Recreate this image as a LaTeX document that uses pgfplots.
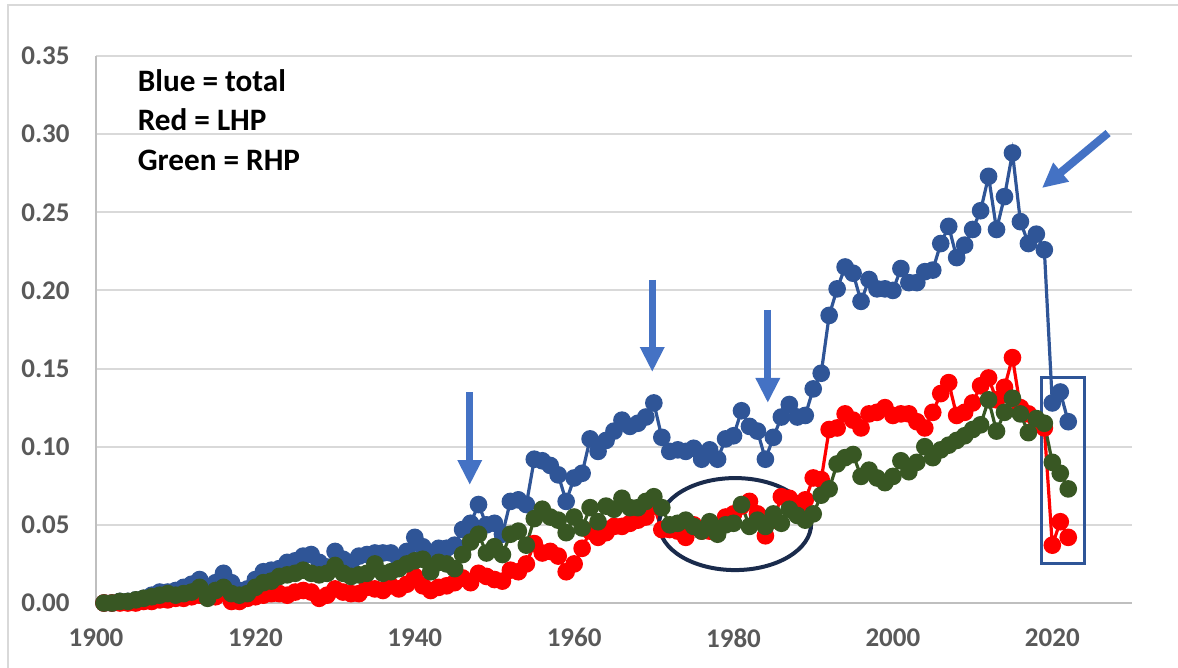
\documentclass[border=0pt]{standalone}
\usepackage{fontspec}
\setmainfont{Carlito}
\usepackage{pgfplots}
\usepackage{pgfplotstable}
\pgfplotsset{compat=1.18}
\usetikzlibrary{arrows.meta}

\definecolor{totblue}{HTML}{2F5597}
\definecolor{lhpred}{HTML}{FF0000}
\definecolor{rhpgreen}{HTML}{385723}
\definecolor{arrblue}{HTML}{4472C4}
\definecolor{navy}{HTML}{1A2B4C}
\definecolor{gridgray}{HTML}{D9D9D9}
\definecolor{axisgray}{HTML}{BFBFBF}
\definecolor{labelgray}{HTML}{595959}

% year, total, LHP, RHP
\pgfplotstableread{
year total lhp rhp
1901 0.000 0.000 0.000
1902 0.000 0.000 0.000
1903 0.001 0.000 0.001
1904 0.001 0.000 0.001
1905 0.002 0.000 0.002
1906 0.003 0.001 0.003
1907 0.005 0.001 0.004
1908 0.007 0.002 0.005
1909 0.007 0.002 0.006
1910 0.008 0.003 0.005
1911 0.010 0.003 0.006
1912 0.012 0.004 0.007
1913 0.015 0.005 0.010
1914 0.009 0.004 0.003
1915 0.013 0.004 0.008
1916 0.019 0.007 0.010
1917 0.013 0.001 0.006
1918 0.008 0.001 0.005
1919 0.009 0.003 0.006
1920 0.015 0.004 0.010
1921 0.020 0.005 0.013
1922 0.021 0.006 0.014
1923 0.022 0.006 0.017
1924 0.026 0.005 0.018
1925 0.027 0.007 0.019
1926 0.030 0.008 0.021
1927 0.031 0.007 0.019
1928 0.026 0.003 0.018
1929 0.023 0.005 0.019
1930 0.033 0.009 0.024
1931 0.028 0.007 0.019
1932 0.026 0.006 0.017
1933 0.030 0.006 0.018
1934 0.031 0.010 0.019
1935 0.032 0.009 0.025
1936 0.032 0.008 0.019
1937 0.032 0.011 0.020
1938 0.028 0.009 0.022
1939 0.033 0.012 0.025
1940 0.042 0.017 0.027
1941 0.036 0.011 0.028
1942 0.030 0.008 0.020
1943 0.035 0.010 0.026
1944 0.035 0.011 0.025
1945 0.037 0.013 0.022
1946 0.047 0.016 0.031
1947 0.051 0.013 0.039
1948 0.063 0.019 0.044
1949 0.050 0.017 0.032
1950 0.051 0.015 0.036
1951 0.044 0.014 0.031
1952 0.065 0.021 0.044
1953 0.066 0.020 0.046
1954 0.063 0.025 0.037
1955 0.092 0.038 0.054
1956 0.091 0.032 0.060
1957 0.088 0.033 0.055
1958 0.082 0.030 0.053
1959 0.065 0.020 0.045
1960 0.080 0.025 0.055
1961 0.083 0.035 0.048
1962 0.105 0.046 0.061
1963 0.097 0.042 0.052
1964 0.104 0.045 0.062
1965 0.110 0.049 0.060
1966 0.117 0.049 0.067
1967 0.113 0.051 0.061
1968 0.115 0.053 0.061
1969 0.119 0.055 0.065
1970 0.128 0.062 0.068
1971 0.106 0.047 0.061
1972 0.097 0.047 0.050
1973 0.098 0.046 0.051
1974 0.097 0.042 0.053
1975 0.099 0.050 0.049
1976 0.092 0.046 0.046
1977 0.098 0.046 0.052
1978 0.092 0.047 0.044
1979 0.105 0.055 0.050
1980 0.107 0.057 0.051
1981 0.123 0.062 0.063
1982 0.113 0.065 0.049
1983 0.110 0.057 0.053
1984 0.092 0.043 0.049
1985 0.106 0.053 0.057
1986 0.119 0.068 0.051
1987 0.127 0.067 0.060
1988 0.119 0.061 0.056
1989 0.120 0.066 0.053
1990 0.137 0.080 0.057
1991 0.147 0.079 0.069
1992 0.184 0.111 0.073
1993 0.201 0.112 0.089
1994 0.215 0.121 0.093
1995 0.211 0.117 0.095
1996 0.193 0.112 0.081
1997 0.207 0.121 0.085
1998 0.201 0.122 0.080
1999 0.201 0.125 0.077
2000 0.200 0.120 0.081
2001 0.214 0.121 0.091
2002 0.205 0.121 0.084
2003 0.205 0.116 0.090
2004 0.212 0.112 0.100
2005 0.213 0.122 0.093
2006 0.230 0.134 0.098
2007 0.241 0.141 0.101
2008 0.221 0.120 0.104
2009 0.229 0.122 0.107
2010 0.239 0.128 0.111
2011 0.251 0.139 0.114
2012 0.273 0.144 0.130
2013 0.239 0.130 0.110
2014 0.260 0.138 0.122
2015 0.288 0.157 0.131
2016 0.244 0.125 0.121
2017 0.230 0.121 0.109
2018 0.236 0.117 0.118
2019 0.226 0.112 0.115
2020 0.128 0.037 0.090
2021 0.135 0.052 0.083
2022 0.116 0.042 0.073
}\pvdata

\tikzset{
  series/.style={line width=1.6pt, mark=*, mark size=3.6pt, mark options={solid}},
  bigarrow/.style={draw=arrblue, line width=3.6pt, -{Triangle[width=11.5pt,length=12.5pt]}},
}

\begin{document}
\begin{tikzpicture}
\useasboundingbox (-48pt,-32.5pt) rectangle (541pt,301.5pt);
% outer frame of the figure
\draw[gridgray, line width=1pt] (-44pt,-40pt) -- (-44pt,299pt) -- (545pt,299pt);

\begin{axis}[
  scale only axis,
  width=518pt, height=273.5pt,
  xmin=1900, xmax=2030,
  ymin=0, ymax=0.35,
  clip=false,
  xtick={1900,1920,1940,1960,1980,2000,2020},
  ytick={0,0.05,0.10,0.15,0.20,0.25,0.30,0.35},
  axis lines*=left,
  axis line style={draw=axisgray, line width=1pt, -},
  ymajorgrids,
  major grid style={draw=gridgray, line width=1pt},
  major tick length=0pt,
  tick style={draw=none},
  /pgf/number format/.cd, 1000 sep={}, assume math mode=true,
  /pgfplots/.cd,
  ticklabel style={font=\bfseries\fontsize{13.5}{14}\selectfont, text=labelgray, inner sep=0pt},
  yticklabel style={anchor=east, xshift=-13pt,
    /pgf/number format/.cd, fixed, fixed zerofill, precision=2},
  xticklabel style={anchor=north, yshift=-12.5pt},
]
\addplot[series, color=totblue] table[x=year, y=total] {\pvdata};
\addplot[series, color=lhpred] table[x=year, y=lhp] {\pvdata};
\addplot[series, color=rhpgreen] table[x=year, y=rhp] {\pvdata};

% annotations
\draw[bigarrow] (axis cs:1946.9,0.135) -- (axis cs:1946.9,0.0755);
\draw[bigarrow] (axis cs:1969.8,0.2067) -- (axis cs:1969.8,0.1478);
\draw[bigarrow] (axis cs:1984.3,0.1875) -- (axis cs:1984.3,0.128);
\draw[bigarrow, line width=4pt] (axis cs:2027.0,0.3007) -- (axis cs:2018.7,0.2655);
\draw[navy, line width=2pt] (axis cs:1980.2,0.0505) ellipse [x radius=38pt, y radius=23pt];
\draw[totblue, line width=1.5pt] (axis cs:2018.7,0.1446) rectangle (axis cs:2024.0,0.025);

\node[anchor=base west, inner sep=0pt, font=\bfseries\fontsize{15.6}{18}\selectfont]
  at (axis cs:1905.2,0.3271) {Blue = total};
\node[anchor=base west, inner sep=0pt, font=\bfseries\fontsize{15.6}{18}\selectfont]
  at (axis cs:1905.2,0.3022) {Red = LHP};
\node[anchor=base west, inner sep=0pt, font=\bfseries\fontsize{15.6}{18}\selectfont]
  at (axis cs:1905.2,0.2770) {Green = RHP};
\end{axis}
\end{tikzpicture}
\end{document}
